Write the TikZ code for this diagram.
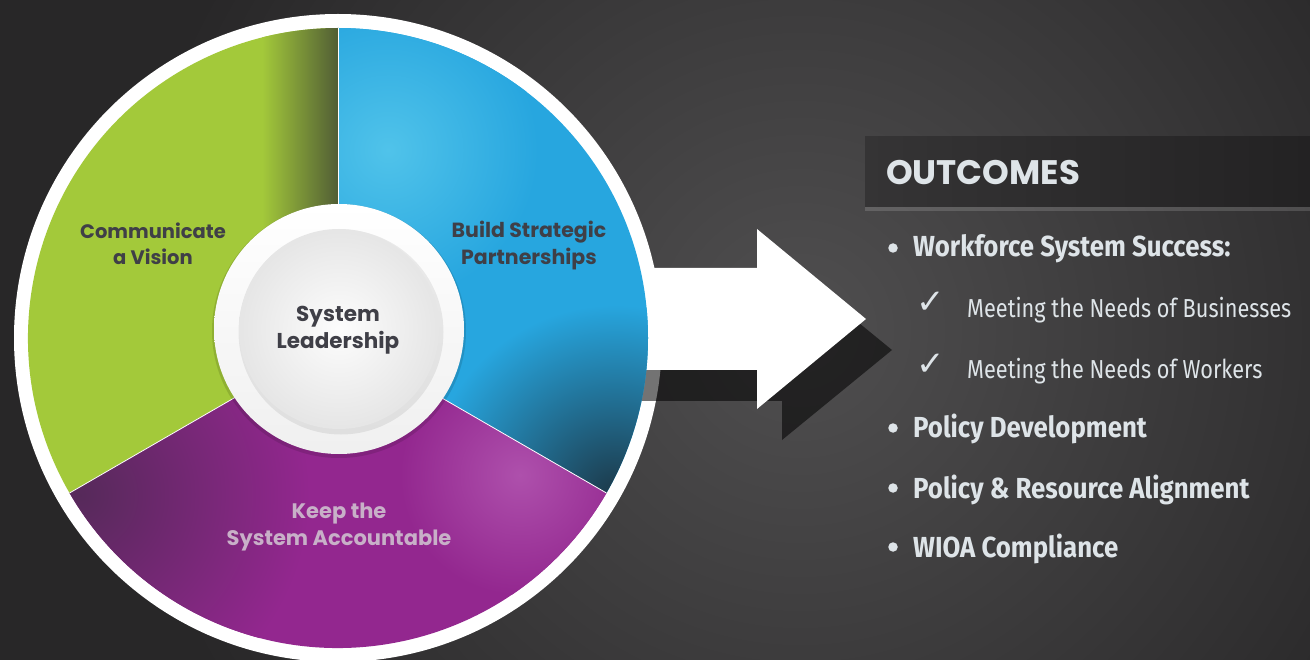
\documentclass[tikz,border=0pt]{standalone}
\usepackage{fontspec}
\setmainfont{Poppins}
\newfontfamily\pop{Poppins}
\newfontfamily\condb[FakeStretch=0.89]{Fira Sans}
\newfontfamily\condl[FakeStretch=0.835]{Fira Sans}
\newfontfamily\dejavu{DejaVu Sans}
\definecolor{bgdark}{HTML}{282728}
\definecolor{bglight}{HTML}{504F50}
\definecolor{greenc}{HTML}{A3C93A}
\definecolor{greend}{HTML}{505C35}
\definecolor{bluec}{HTML}{27A6DF}
\definecolor{bluel}{HTML}{50C3EA}
\definecolor{blued}{HTML}{1C3848}
\definecolor{purplec}{HTML}{93278F}
\definecolor{purplel}{HTML}{AE50AC}
\definecolor{purpled}{HTML}{56295A}
\definecolor{labeldark}{HTML}{3F3F47}
\definecolor{labelpink}{HTML}{C8B0C8}
\definecolor{chalk}{HTML}{DEE4E8}
\definecolor{bandl}{HTML}{353435}
\definecolor{bandr}{HTML}{232223}
\tikzset{
  seglabel/.style={font=\pop\bfseries\fontsize{20.5}{27}\selectfont, text=labeldark, align=center, inner sep=0pt},
  headtext/.style={font=\pop\bfseries\fontsize{34}{38}\selectfont, text=chalk, inner sep=0pt, anchor=base west},
  itemb/.style={font=\condb\bfseries\fontsize{29}{34}\selectfont, text=chalk, inner sep=0pt, anchor=base west},
  iteml/.style={font=\condl\fontsize{26}{30}\selectfont, text=chalk, inner sep=0pt, anchor=base west},
  checkmk/.style={font=\dejavu\fontsize{34}{40}\selectfont, text=chalk, inner sep=0pt, anchor=base west},
  bulletdot/.style={circle, fill=chalk, minimum size=9.5pt, inner sep=0pt},
}
\begin{document}
\begin{tikzpicture}[x=1pt,y=-1pt]
\useasboundingbox (0,0) rectangle (1310,660);
% background
\fill[bgdark] (0,0) rectangle (1310,660);
\begin{scope}
  \clip (0,0) rectangle (1310,660);
  \shade[inner color=bglight, outer color=bgdark] (800,330) circle[radius=680];
\end{scope}

\coordinate (C) at (338,338);
% outer wheel ring
\fill[white] (C) circle[radius=324];
% arrow (shadow, then white)
\fill[black, opacity=0.55] (600,298) -- (782,298) -- (782,260) -- (892,350) -- (782,440) -- (782,401) -- (600,401) -- cycle;
\fill[white] (600,268) -- (757,268) -- (757,229) -- (866,319) -- (757,409) -- (757,370) -- (600,370) -- cycle;

% green sector
\begin{scope}
  \clip (C) -- ++(150:310) arc[start angle=150, end angle=270, radius=310] -- cycle;
  \fill[greenc] (0,0) rectangle (340,660);
  \shade[left color=greenc, right color=greend] (262,0) rectangle (339,400);
\end{scope}
% blue sector
\begin{scope}
  \clip (C) -- ++(-90:310) arc[start angle=-90, end angle=30, radius=310] -- cycle;
  \fill[bluec] (330,0) rectangle (660,660);
  \shade[inner color=bluel, outer color=bluec] (388,150) circle[radius=150];
  \shade[inner color=blued, outer color=bluec] (615,495) circle[radius=190];
\end{scope}
% purple sector
\begin{scope}
  \clip (C) -- ++(30:310) arc[start angle=30, end angle=150, radius=310] -- cycle;
  \fill[purplec] (0,330) rectangle (660,660);
  \shade[inner color=purplel, outer color=purplec] (520,475) circle[radius=120];
  \shade[inner color=purpled, outer color=purplec] (80,495) circle[radius=230];
\end{scope}
% dividers
\draw[white, line width=0.8pt] (C) -- ++(-90:310);
\draw[white, line width=0.8pt] (C) -- ++(30:310);
\draw[white, line width=0.8pt] (C) -- ++(150:310);

% centre hub
\fill[black, opacity=0.12] (339,331) circle[radius=127];
\shade[top color=white, bottom color=white!94!black] (339,329) circle[radius=125];
\fill[black, opacity=0.07] (341,332) circle[radius=102.5];
\shade[inner color=white!99!black, outer color=white!90!black] (339,329) circle[radius=100];

% labels
\node[seglabel, font=\pop\bfseries\fontsize{19.5}{26.5}\selectfont] (comm) at (153,244) {Communicate\\a Vision};
\node[seglabel] (build) at (529,246) {Build Strategic\\Partnerships};
\node[seglabel, font=\pop\bfseries\fontsize{21}{27}\selectfont, text=labelpink] (keep) at (339,527) {Keep the\\System Accountable};
\node[seglabel, font=\pop\bfseries\fontsize{21.5}{27}\selectfont] (lead) at (338,330) {System\\Leadership};

% outcomes band
\shade[left color=bandl, right color=bandr] (865,137) rectangle (1310,207);
\fill[white, opacity=0.15] (865,207) rectangle (1310,211);
\node[headtext] (head) at (886,185) {OUTCOMES};

% list
\node[bulletdot] (b1) at (893,248) {};
\node[itemb] (i1) at (913,257) {Workforce System Success:};
\node[checkmk] (c1) at (916,314) {✓};
\node[iteml] (s1) at (967,318) {Meeting the Needs of Businesses};
\node[checkmk] (c2) at (916,376) {✓};
\node[iteml] (s2) at (967,379) {Meeting the Needs of Workers};
\node[bulletdot] (b2) at (893,428) {};
\node[itemb] (i2) at (913,438) {Policy Development};
\node[bulletdot] (b3) at (893,488) {};
\node[itemb] (i3) at (913,498) {Policy \& Resource Alignment};
\node[bulletdot] (b4) at (893,547) {};
\node[itemb] (i4) at (913,557) {WIOA Compliance};
\end{tikzpicture}
\end{document}
